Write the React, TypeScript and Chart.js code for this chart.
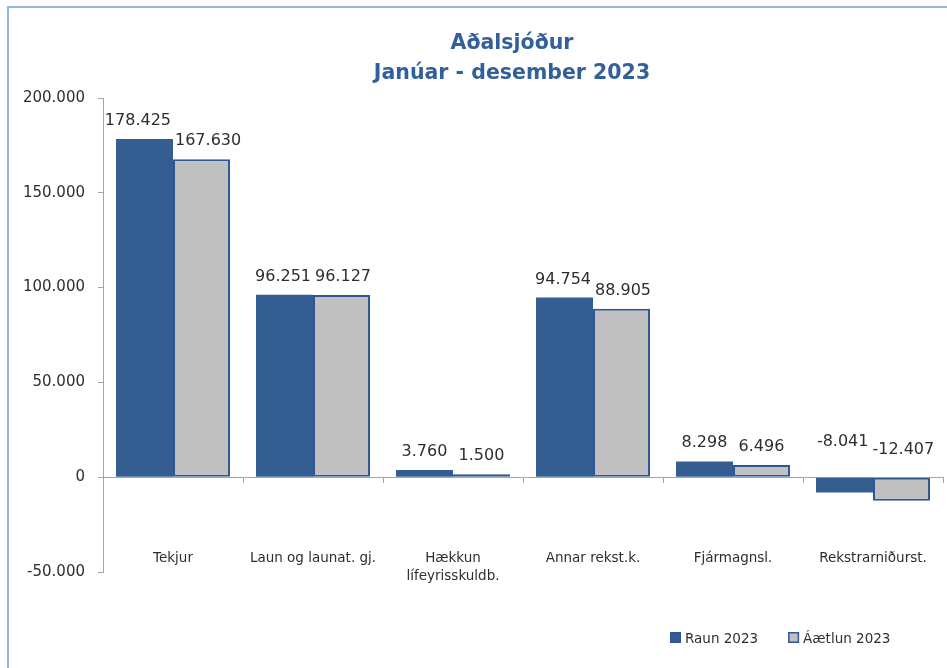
import { useEffect, useRef } from 'react';
import { Chart, registerables } from 'chart.js';

Chart.register(...registerables);

const categories: (string | string[])[] = [
  'Tekjur',
  'Laun og launat. gj.',
  ['Hækkun', 'lífeyrisskuldb.'],
  'Annar rekst.k.',
  'Fjármagnsl.',
  'Rekstrarniðurst.',
];
const raun2023 = [178425, 96251, 3760, 94754, 8298, -8041];
const aetlun2023 = [167630, 96127, 1500, 88905, 6496, -12407];
const seriesNames = ['Raun 2023', 'Áætlun 2023'];
const titleLines = ['Aðalsjóður', 'Janúar - desember 2023'];
const yMin = -50000;
const yMax = 200000;
const yStep = 50000;

const FONT = '"DejaVu Sans", "Liberation Sans", sans-serif';
const BLUE = '#345E91';
const GRAY = '#C0C0C0';
const EDGE = '#2F5597';
const AXIS = '#A6A6A6';
const TEXT = '#2E2E2E';

function fmt(v: number): string {
  const s = Math.abs(Math.round(v))
    .toString()
    .replace(/\B(?=(\d{3})+(?!\d))/g, '.');
  return (v < 0 ? '-' : '') + s;
}

const valueLabelPlugin = {
  id: 'valueLabels',
  afterDatasetsDraw(chart: any) {
    const ctx = chart.ctx;
    const zero = chart.scales.y.getPixelForValue(0);
    ctx.save();
    ctx.font = `16px ${FONT}`;
    ctx.fillStyle = TEXT;
    ctx.textAlign = 'center';
    ctx.textBaseline = 'alphabetic';
    const n = chart.data.labels.length;
    for (let i = 0; i < n; i++) {
      const items = chart.data.datasets.map((ds: any, di: number) => {
        const bar = chart.getDatasetMeta(di).data[i];
        const v = ds.data[i] as number;
        const text = fmt(v);
        const w = ctx.measureText(text).width;
        const y = v >= 0 ? bar.y - 14 : zero - (di === 0 ? 31 : 23);
        return { text, x: bar.x, y, w };
      });
      if (items.length === 2) {
        const [a, b] = items;
        const overlap = a.x + a.w / 2 + 4 - (b.x - b.w / 2);
        if (overlap > 0 && Math.abs(a.y - b.y) < 26) {
          a.x -= overlap / 2;
          b.x += overlap / 2;
        }
      }
      items.forEach((it: any) => ctx.fillText(it.text, it.x, it.y));
    }
    ctx.restore();
  },
};

const titleLegendPlugin = {
  id: 'titleLegend',
  afterDraw(chart: any) {
    const ctx = chart.ctx;
    ctx.save();
    ctx.font = `bold 20.5px ${FONT}`;
    ctx.fillStyle = '#33609C';
    ctx.textAlign = 'center';
    ctx.textBaseline = 'middle';
    const cx = 512;
    titleLines.forEach((line, i) => {
      ctx.fillText(line, cx, 44 + i * 30);
    });
    ctx.font = `13.5px ${FONT}`;
    ctx.textAlign = 'left';
    ctx.textBaseline = 'alphabetic';
    let x = 670;
    const boxY = 632;
    chart.data.datasets.forEach((ds: any) => {
      ctx.fillStyle = ds.backgroundColor;
      ctx.fillRect(x, boxY, 11, 11);
      ctx.strokeStyle = EDGE;
      ctx.lineWidth = 1.5;
      ctx.strokeRect(x + 0.75, boxY + 0.75, 9.5, 9.5);
      ctx.fillStyle = TEXT;
      ctx.fillText(ds.label, x + 15, boxY + 10.5);
      const w = ctx.measureText(ds.label).width;
      x += 15 + w + 30;
    });
    ctx.restore();
  },
};

export default function App() {
  const canvasRef = useRef<HTMLCanvasElement | null>(null);

  useEffect(() => {
    const canvas = canvasRef.current;
    if (!canvas) return;
    const chart = new Chart(canvas, {
      type: 'bar',
      data: {
        labels: categories as any,
        datasets: [
          {
            label: seriesNames[0],
            data: raun2023,
            backgroundColor: BLUE,
            borderColor: BLUE,
            borderWidth: 0,
            categoryPercentage: 0.814,
            barPercentage: 1,
          },
          {
            label: seriesNames[1],
            data: aetlun2023,
            backgroundColor: GRAY,
            borderColor: EDGE,
            borderWidth: 2,
            borderSkipped: false,
            categoryPercentage: 0.814,
            barPercentage: 1,
          },
        ],
      },
      options: {
        responsive: false,
        animation: false,
        devicePixelRatio: 1,
        layout: { padding: { left: 0, top: 98, right: 4, bottom: 96 } },
        plugins: {
          legend: { display: false },
          title: { display: false },
          tooltip: { enabled: false },
        },
        scales: {
          x: {
            type: 'category',
            position: { y: 0 } as any,
            offset: true,
            grid: {
              offset: true,
              drawOnChartArea: false,
              drawTicks: true,
              tickLength: 5,
              color: AXIS,
            },
            border: { display: true, color: AXIS, width: 1 },
            ticks: { display: false },
          },
          xl: {
            type: 'category',
            axis: 'x',
            position: { y: -38500 } as any,
            offset: true,
            grid: { display: false, drawTicks: false },
            border: { display: false },
            ticks: {
              padding: 0,
              autoSkip: false,
              maxRotation: 0,
              minRotation: 0,
              color: TEXT,
              font: { family: FONT, size: 13.5, lineHeight: 1.3 },
            },
          } as any,
          y: {
            min: yMin,
            max: yMax,
            afterFit: (scale: any) => {
              scale.width = 103;
            },
            grid: {
              drawOnChartArea: false,
              drawTicks: true,
              tickLength: 5,
              color: AXIS,
            },
            border: { display: true, color: AXIS, width: 1 },
            ticks: {
              stepSize: yStep,
              padding: 13,
              color: TEXT,
              font: { family: FONT, size: 15 },
              callback: (v: any) => fmt(Number(v)),
            },
          },
        },
      },
      plugins: [valueLabelPlugin, titleLegendPlugin],
    });
    return () => chart.destroy();
  }, []);

  return (
    <div
      style={{
        position: 'fixed',
        left: 0,
        top: 0,
        width: 947,
        height: 668,
        background: '#ffffff',
        overflow: 'hidden',
      }}
    >
      <div
        style={{
          position: 'absolute',
          left: 7,
          top: 6,
          width: 960,
          height: 680,
          borderLeft: '2px solid #95B8DD',
          borderTop: '2px solid #95B8DD',
        }}
      />
      <canvas
        ref={canvasRef}
        width={947}
        height={668}
        style={{ position: 'absolute', left: 0, top: 0, width: 947, height: 668 }}
      />
    </div>
  );
}
